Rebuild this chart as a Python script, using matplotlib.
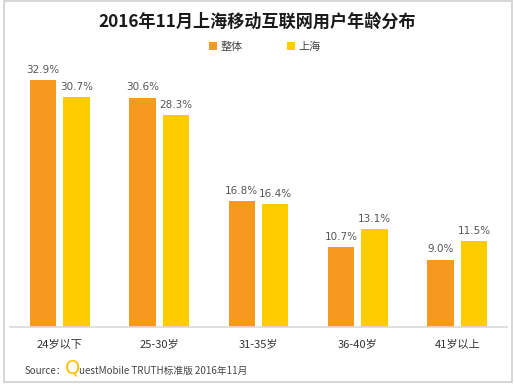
import matplotlib.pyplot as plt
import numpy as np
from matplotlib.patches import Rectangle

plt.rcParams['font.family'] = ['Noto Sans CJK SC', 'DejaVu Sans']

categories = ['24岁以下', '25-30岁', '31-35岁', '36-40岁', '41岁以上']
overall = [32.9, 30.6, 16.8, 10.7, 9.0]
shanghai = [30.7, 28.3, 16.4, 13.1, 11.5]
series_names = ['整体', '上海']
colors = ['#F7991E', '#FFCC00']

W, H = 514, 386
fig = plt.figure(figsize=(W / 100, H / 100), dpi=100)

# outer frame
fig.patches.append(Rectangle((4 / W, 4 / H), 508 / W, 381 / H, transform=fig.transFigure,
                             fill=False, edgecolor='#cfcfcf', linewidth=1.2))

ax = fig.add_axes([10 / W, 1 - 327 / H, 497 / W, 257 / H])
x = np.arange(len(categories))
off = 0.168
w = 0.265
b1 = ax.bar(x - off, overall, w, color=colors[0], label=series_names[0])
b2 = ax.bar(x + off, shanghai, w, color=colors[1], label=series_names[1])
for bars, vals in ((b1, overall), (b2, shanghai)):
    for r, v in zip(bars, vals):
        ax.text(r.get_x() + r.get_width() / 2, v + 0.7, f'{v:.1f}%', ha='center', va='bottom',
                fontsize=7.5, color='#555555', family='DejaVu Sans')

ax.set_xlim(-0.5, len(categories) - 0.5)
ax.set_ylim(0, 34.3)
ax.set_yticks([])
ax.set_xticks(x)
ax.set_xticklabels(categories, fontsize=8, color='#333333')
ax.tick_params(axis='x', length=0, pad=9)
for s in ['top', 'right', 'left']:
    ax.spines[s].set_visible(False)
ax.spines['bottom'].set_color('#d9d9d9')
ax.spines['bottom'].set_linewidth(1.2)

fig.text(0.5, 1 - 22 / H, '2016年11月上海移动互联网用户年龄分布', ha='center', va='center',
         fontsize=12.3, fontweight='bold', color='#1a1a1a')

leg = fig.legend(handles=[b1, b2], loc='center', bbox_to_anchor=(0.515, 1 - 47 / H), ncol=2,
                 frameon=False, fontsize=8, handlelength=0.7, handleheight=0.7,
                 handletextpad=0.3, columnspacing=4)
for t in leg.get_texts():
    t.set_color('#444444')

fig.text(25 / W, 1 - 371 / H, 'Source：', ha='left', va='center', fontsize=7, color='#444444')
fig.text(65 / W, 1 - 368 / H, 'Q', ha='left', va='center', fontsize=14, color='#FFC000',
         family='DejaVu Sans')
fig.text(79 / W, 1 - 371 / H, 'uestMobile TRUTH标准版 2016年11月', ha='left', va='center',
         fontsize=7, color='#444444')

fig.savefig('out.png', dpi=100)
